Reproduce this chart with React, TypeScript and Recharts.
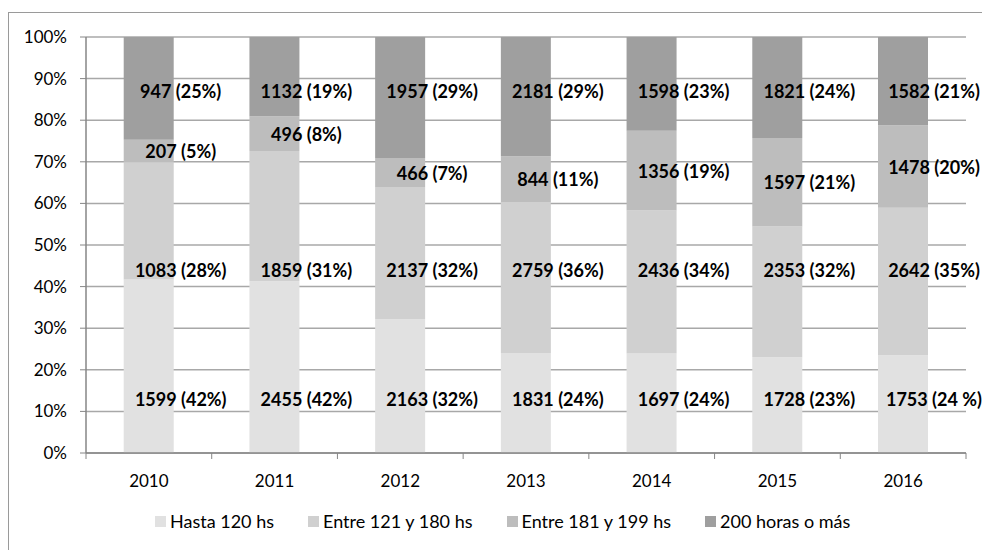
import React from "react";
import {
  BarChart,
  Bar,
  XAxis,
  YAxis,
  CartesianGrid,
  LabelList,
} from "recharts";

// años y cantidades por rango de horas
const years = ["2010", "2011", "2012", "2013", "2014", "2015", "2016"];
const hasta120 = [1599, 2455, 2163, 1831, 1697, 1728, 1753];
const entre121y180 = [1083, 1859, 2137, 2759, 2436, 2353, 2642];
const entre181y199 = [207, 496, 466, 844, 1356, 1597, 1478];
const desde200 = [947, 1132, 1957, 2181, 1598, 1821, 1582];

// porcentajes tal como figuran en las etiquetas
const hasta120Pct = ["42%", "42%", "32%", "24%", "24%", "23%", "24 %"];
const entre121y180Pct = ["28%", "31%", "32%", "36%", "34%", "32%", "35%"];
const entre181y199Pct = ["5%", "8%", "7%", "11%", "19%", "21%", "20%"];
const desde200Pct = ["25%", "19%", "29%", "29%", "23%", "24%", "21%"];

const yTicks = [0, 0.1, 0.2, 0.3, 0.4, 0.5, 0.6, 0.7, 0.8, 0.9, 1];

// anchor: altura fija (fracción del eje) para la etiqueta; null = centro del tramo
const series = [
  { key: "h120", name: "Hasta 120 hs", values: hasta120, pct: hasta120Pct, color: "#e1e1e1", anchor: 0.13 },
  { key: "e121", name: "Entre 121 y 180 hs", values: entre121y180, pct: entre121y180Pct, color: "#d0d0d0", anchor: 0.44 },
  { key: "e181", name: "Entre 181 y 199 hs", values: entre181y199, pct: entre181y199Pct, color: "#bdbdbd", anchor: null },
  { key: "m200", name: "200 horas o más", values: desde200, pct: desde200Pct, color: "#9f9f9f", anchor: 0.87 },
];

const data = years.map((year, i) => {
  const row: Record<string, string | number> = { year };
  series.forEach((s) => {
    row[s.key] = s.values[i];
  });
  return row;
});

const totals = years.map((_, i) => series.reduce((acc, s) => acc + s.values[i], 0));

const FONT = "Lato, 'Open Sans', sans-serif";

// etiqueta "valor (pct)" desplazada a la derecha de la barra
const makeLabel = (k: number) => (props: any) => {
  const { x, y, width, height, index } = props;
  const s = series[k];
  const frac = s.values[index] / totals[index];
  let cy = y + height / 2;
  if (s.anchor !== null && frac > 0) {
    const plotH = height / frac;
    let below = 0;
    for (let j = 0; j < k; j++) below += series[j].values[index] / totals[index];
    const zeroY = y + height + below * plotH;
    cy = zeroY - s.anchor * plotH;
  }
  let cx = x + width / 2 + 32;
  if (cx > 925) cx = 925;
  return (
    <text
      x={cx}
      y={cy}
      textAnchor="middle"
      dominantBaseline="central"
      fontFamily={FONT}
      fontWeight={700}
      fontSize={18}
      fill="#000"
    >
      {`${s.values[index]} (${s.pct[index]})`}
    </text>
  );
};

// marcas del eje X entre categorías
const XTick = (props: any) => {
  const { x, y, payload, index } = props;
  const off = payload.offset ?? 62.86;
  return (
    <g>
      <line x1={x - off} x2={x - off} y1={y} y2={y + 6} stroke="#868686" />
      {index === years.length - 1 && (
        <line x1={x + off} x2={x + off} y1={y} y2={y + 6} stroke="#868686" />
      )}
      <text
        x={x}
        y={y + 27}
        textAnchor="middle"
        dominantBaseline="central"
        fontFamily={FONT}
        fontSize={17}
        fill="#000"
      >
        {payload.value}
      </text>
    </g>
  );
};

const App = () => {
  return (
    <div style={{ position: "fixed", left: 0, top: 0, width: 982, height: 550, overflow: "hidden", background: "#fff" }}>
      <div
        style={{
          position: "absolute",
          left: 8,
          top: 12,
          width: 973,
          height: 540,
          borderLeft: "1px solid #9a9a9a",
          borderTop: "1px solid #9a9a9a",
        }}
      >
        <BarChart
          width={973}
          height={527}
          data={data}
          stackOffset="expand"
          barCategoryGap="30%"
          margin={{ top: 24, right: 16, left: 0, bottom: 57 }}
        >
          <CartesianGrid vertical={false} stroke="#a8a8a8" strokeWidth={1.5} />
          <XAxis
            dataKey="year"
            height={30}
            tickLine={false}
            tickSize={0}
            tickMargin={0}
            axisLine={{ stroke: "#868686", strokeWidth: 1.5 }}
            tick={<XTick />}
            interval={0}
          />
          <YAxis
            width={77}
            domain={[0, 1]}
            ticks={yTicks}
            tickFormatter={(v: number) => `${Math.round(v * 100)}%`}
            tickSize={6}
            tickMargin={13}
            tickLine={{ stroke: "#868686" }}
            axisLine={{ stroke: "#868686", strokeWidth: 1.5 }}
            tick={{ fontFamily: FONT, fontSize: 17, fill: "#000" }}
          />
          {series.map((s, k) => (
            <Bar key={s.key} dataKey={s.key} name={s.name} stackId="a" fill={s.color} isAnimationActive={false}>
              <LabelList dataKey={s.key} content={makeLabel(k)} />
            </Bar>
          ))}
        </BarChart>
        <div
          style={{
            position: "absolute",
            top: 498,
            left: 146,
            display: "flex",
            alignItems: "center",
            fontFamily: FONT,
            fontSize: 18,
            lineHeight: "20px",
            color: "#000",
            whiteSpace: "nowrap",
          }}
        >
          {series.map((s) => (
            <div key={s.key} style={{ display: "flex", alignItems: "center", marginRight: 34 }}>
              <span style={{ width: 11, height: 11, background: s.color, display: "inline-block", marginRight: 4 }} />
              <span>{s.name}</span>
            </div>
          ))}
        </div>
      </div>
    </div>
  );
};

export default App;
